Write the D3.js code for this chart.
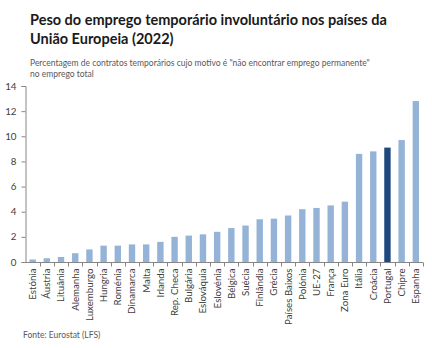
<!DOCTYPE html>
<html>
<head>
<meta charset="utf-8">
<title>Emprego temporário involuntário</title>
<script src="https://cdn.jsdelivr.net/npm/d3@7"></script>
<style>
	body { margin: 0; background: #fff; }
	text { font-family: Lato, "Open Sans", sans-serif; }
</style>
</head>
<body>
<script>
	// data
	var countries = ['Estónia', 'Áustria', 'Lituânia', 'Alemanha', 'Luxemburgo', 'Hungria', 'Roménia',
		'Dinamarca', 'Malta', 'Irlanda', 'Rep. Checa', 'Bulgária', 'Eslováquia', 'Eslovénia', 'Bélgica',
		'Suécia', 'Finlândia', 'Grécia', 'Países Baixos', 'Polónia', 'UE-27', 'França', 'Zona Euro',
		'Itália', 'Croácia', 'Portugal', 'Chipre', 'Espanha'];
	var values = [0.2, 0.3, 0.4, 0.7, 1.0, 1.3, 1.3, 1.4, 1.4, 1.6, 2.0, 2.1, 2.2, 2.4, 2.7,
		2.9, 3.4, 3.45, 3.7, 4.2, 4.3, 4.5, 4.8, 8.6, 8.8, 9.1, 9.7, 12.8];
	var yTicks = [0, 2, 4, 6, 8, 10, 12, 14];
	var highlight = 'Portugal';

	var W = 432, H = 348;
	var svg = d3.select('body').append('svg')
		.attr('width', W)
		.attr('height', H);

	// titles
	svg.append('text')
		.attr('x', 30).attr('y', 25)
		.attr('font-size', 14.5).attr('font-weight', 'bold').attr('fill', '#1a1a1a')
		.text('Peso do emprego temporário involuntário nos países da');
	svg.append('text')
		.attr('x', 30).attr('y', 44)
		.attr('font-size', 14.5).attr('font-weight', 'bold').attr('fill', '#1a1a1a')
		.text('União Europeia (2022)');
	svg.append('text')
		.attr('x', 30).attr('y', 66)
		.attr('font-size', 8.5).attr('fill', '#595959')
		.text('Percentagem de contratos temporários cujo motivo é "não encontrar emprego permanente"');
	svg.append('text')
		.attr('x', 30).attr('y', 77)
		.attr('font-size', 8.5).attr('fill', '#595959')
		.text('no emprego total');

	var x = d3.scaleBand()
		.domain(countries)
		.range([25.5, 423])
		.paddingInner(0.55)
		.paddingOuter(0.28);

	var y = d3.scaleLinear()
		.domain([0, 14])
		.range([262, 86]);

	// bars
	svg.selectAll('rect.bar')
		.data(values)
		.enter()
		.append('rect')
		.attr('class', 'bar')
		.attr('x', function (d, i) { return x(countries[i]); })
		.attr('width', x.bandwidth())
		.attr('y', function (d) { return y(d); })
		.attr('height', function (d) { return y(0) - y(d); })
		.attr('fill', function (d, i) {
			return countries[i] === highlight ? '#1f497d' : '#95b3d7';
		});

	// y axis
	var yAxis = svg.append('g')
		.attr('transform', 'translate(25.5,0)')
		.call(d3.axisLeft(y).tickValues(yTicks).tickSize(4).tickPadding(5));
	yAxis.selectAll('path, line').attr('stroke', '#868686');
	yAxis.selectAll('text')
		.attr('font-size', 9.8).attr('fill', '#404040')
		.style('font-family', 'Lato, "Open Sans", sans-serif');

	// x axis: ticks at category boundaries
	var xAxis = svg.append('g')
		.attr('transform', 'translate(0,262.5)');
	xAxis.append('line')
		.attr('x1', 25.5).attr('x2', 423)
		.attr('stroke', '#868686');
	var step = x.step();
	xAxis.selectAll('line.tick')
		.data(countries)
		.enter()
		.append('line')
		.attr('class', 'tick')
		.attr('x1', function (d) { return Math.round(x(d) + x.bandwidth() / 2 + step / 2) + 0.5; })
		.attr('x2', function (d) { return Math.round(x(d) + x.bandwidth() / 2 + step / 2) + 0.5; })
		.attr('y1', 0).attr('y2', 4)
		.attr('stroke', '#868686');
	xAxis.selectAll('text.lbl')
		.data(countries)
		.enter()
		.append('text')
		.attr('class', 'lbl')
		.attr('transform', function (d) {
			return 'translate(' + (x(d) + x.bandwidth() / 2 + 3.4) + ',6) rotate(-90)';
		})
		.attr('text-anchor', 'end')
		.attr('font-size', 9.7)
		.attr('fill', '#404040')
		.text(function (d) { return d; });

	svg.append('text')
		.attr('x', 23).attr('y', 338)
		.attr('font-size', 8.5).attr('fill', '#595959')
		.text('Fonte: Eurostat (LFS)');
</script>
</body>
</html>
